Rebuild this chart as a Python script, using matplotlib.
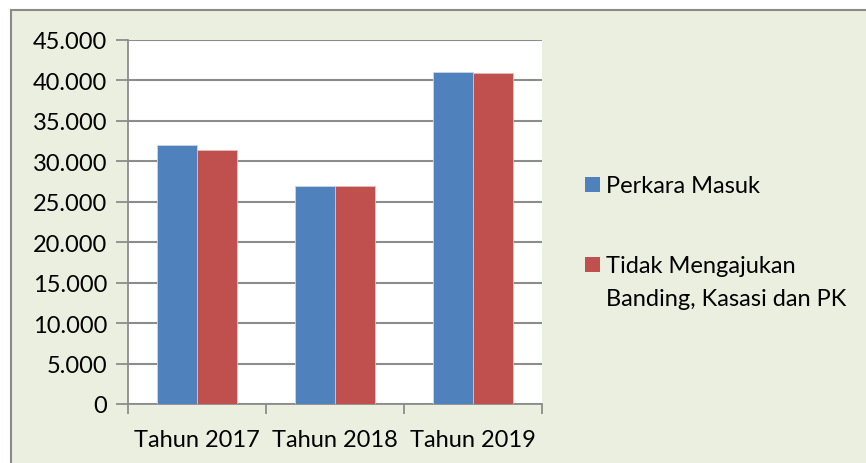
import numpy as np
import matplotlib
matplotlib.use("Agg")
import matplotlib.pyplot as plt
from matplotlib.patches import Rectangle
from matplotlib.ticker import FuncFormatter

categories = ["Tahun 2017", "Tahun 2018", "Tahun 2019"]
perkara_masuk = [32000, 27000, 41000]
tidak_mengajukan = [31400, 26900, 40900]
series_labels = ["Perkara Masuk", "Tidak Mengajukan\nBanding, Kasasi dan PK"]

BLUE = "#4F81BD"
RED = "#C0504D"
BG = "#EBEFDF"
GRID = "#8C8C8C"

plt.rcParams["font.family"] = ["Lato", "DejaVu Sans"]
FS = 17

W, H = 866, 464
fig = plt.figure(figsize=(W / 100, H / 100), dpi=100, facecolor="white")


def fx(px):
    return px / W


def fy(py):
    return 1 - py / H


# chart area frame (extends past right/bottom edge)
fig.patches.append(Rectangle((fx(11), -0.1), 1.2, (H - 10.5) / H + 0.1,
                             transform=fig.transFigure, facecolor=BG,
                             edgecolor="#8A8A8A", linewidth=1.5, zorder=-5))

ax = fig.add_axes([fx(128), fy(405), fx(542 - 128), (405 - 41) / H])
ax.set_facecolor("white")

x = np.arange(len(categories))
w = 0.29
ax.bar(x - w / 2, perkara_masuk, w, color=BLUE, edgecolor="#C9D6E8",
       linewidth=0.6, zorder=3)
ax.bar(x + w / 2, tidak_mengajukan, w, color=RED, edgecolor="#E6BDBC",
       linewidth=0.6, zorder=3)

ax.set_xlim(-0.5, 2.5)
ax.set_ylim(0, 45000)
ax.set_yticks(np.arange(0, 45001, 5000))
ax.yaxis.set_major_formatter(FuncFormatter(lambda v, p: f"{int(v):,}".replace(",", ".")))
ax.grid(axis="y", color=GRID, linewidth=1.5, zorder=1)
ax.set_axisbelow(True)

ax.set_xticks([-0.5, 0.5, 1.5, 2.5])
ax.set_xticklabels([])
ax.set_xticks(x, minor=True)
ax.set_xticklabels(categories, minor=True)
ax.tick_params(axis="x", which="minor", length=0, pad=18, labelsize=FS)
ax.tick_params(axis="x", which="major", length=7, width=1.3, color=GRID)
ax.tick_params(axis="y", length=9, width=1.3, color=GRID, labelsize=FS, pad=6)

for s in ("top", "right"):
    ax.spines[s].set_visible(False)
for s in ("left", "bottom"):
    ax.spines[s].set_color(GRID)
    ax.spines[s].set_linewidth(1.3)

# legend: square aligned with the first line of each label (Excel style)
sq = 15
for (color, label, top) in [(BLUE, series_labels[0], 178), (RED, series_labels[1], 258)]:
    fig.patches.append(Rectangle((fx(585), fy(top + sq)), fx(sq), sq / H,
                                 transform=fig.transFigure, facecolor=color,
                                 edgecolor="none", zorder=2))
    lines = label.split("\n")
    for i, line in enumerate(lines):
        fig.text(fx(606), fy(top + 15 + i * 33), line, fontsize=FS,
                 va="baseline", ha="left", color="black")

fig.savefig("out.png", dpi=100, facecolor=fig.get_facecolor())
